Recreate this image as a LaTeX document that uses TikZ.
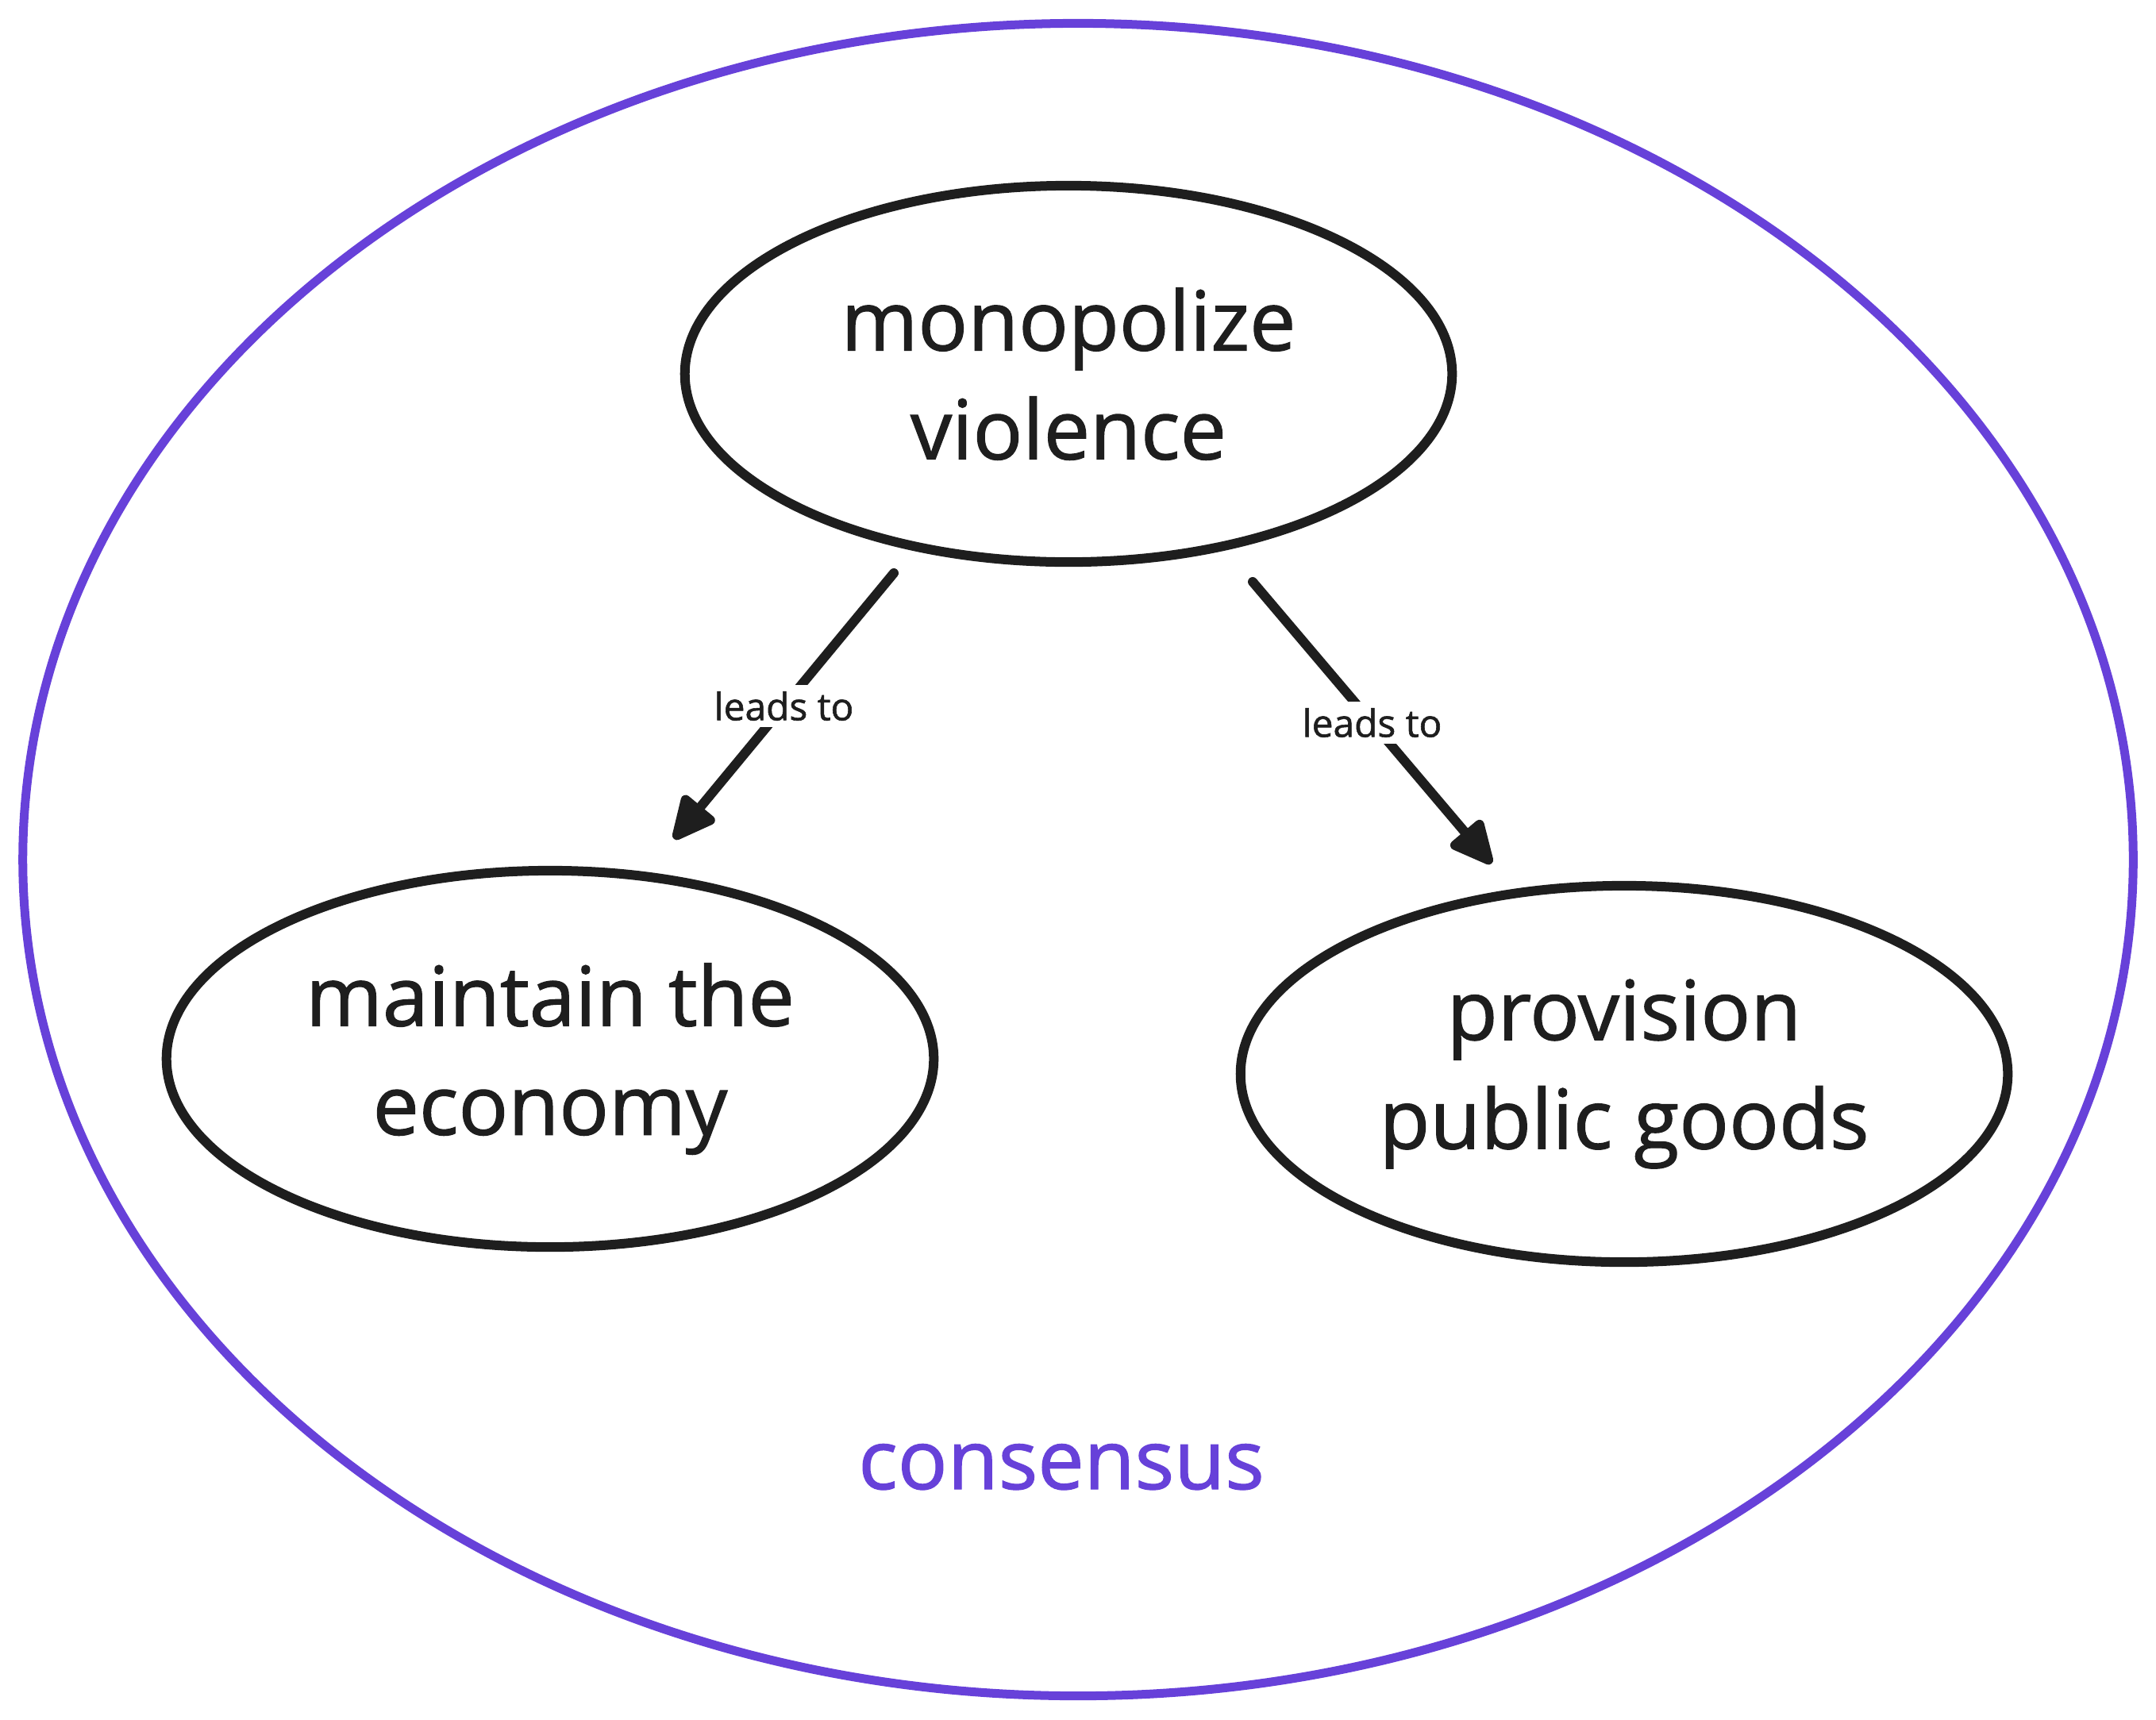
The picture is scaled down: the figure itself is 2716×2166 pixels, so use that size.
\documentclass[tikz,border=0pt]{standalone}
\usepackage{fontspec}
\setmainfont[FakeBold=1]{Open Sans}
\newfontfamily\drawfont[FakeBold=1.2]{Open Sans}
\usetikzlibrary{shapes.geometric,arrows.meta}
\definecolor{ink}{HTML}{1E1E1E}
\definecolor{violet}{HTML}{6741D9}
\tikzset{
  bubble/.style={ellipse, draw=ink, line width=0.12cm, minimum width=9.66cm, minimum height=4.74cm, inner sep=0pt, align=center, text=ink, font=\drawfont\fontsize{29.6pt}{39pt}\selectfont},
  frame/.style={ellipse, draw=violet, line width=0.11cm, minimum width=26.57cm, minimum height=21.06cm, inner sep=0pt},
  link/.style={draw=ink, line width=0.12cm, line cap=round, -{Triangle[length=0.62cm, width=0.56cm, round]}},
  linklabel/.style={fill=white, text=ink, inner sep=0.08cm, font=\drawfont\fontsize{13.6pt}{16pt}\selectfont},
  framelabel/.style={text=violet, font=\drawfont\fontsize{29.6pt}{39pt}\selectfont}
}
\begin{document}
\begin{tikzpicture}[x=0.01cm, y=-0.01cm]
\useasboundingbox (0,0) rectangle (2716,2166);
\node[frame] (outer) at (1358,1083) {};
\node[framelabel, anchor=base] (cons) at (1337,1876) {consensus};
\node[bubble] (top) at (1346,471) {monopolize\\violence};
\node[bubble] (left) at (693,1334) {maintain the\\economy};
\node[bubble] (right) at (2046,1353) {provision\\public goods};
\coordinate (s1) at (1126,722);
\coordinate (e1) at (849,1057);
\coordinate (s2) at (1578,733);
\coordinate (e2) at (1879,1088);
\draw[link] (s1) -- node[linklabel] (l1) {leads to} (e1);
\draw[link] (s2) -- node[linklabel] (l2) {leads to} (e2);
\end{tikzpicture}
\end{document}
